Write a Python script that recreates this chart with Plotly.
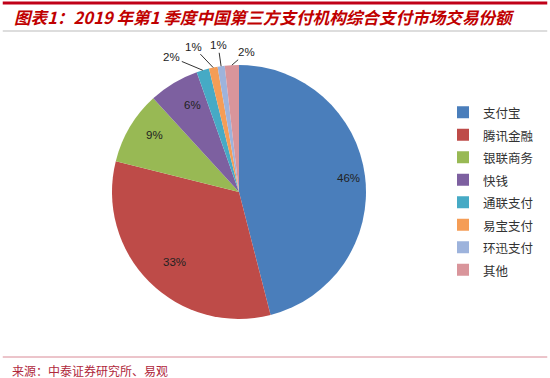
import math
import plotly.graph_objects as go

labels = ["支付宝", "腾讯金融", "银联商务", "快钱", "通联支付", "易宝支付", "环迅支付", "其他"]
shares = [46.0, 32.9, 9.3, 6.4, 1.6, 1.1, 0.9, 1.8]
colors = ["#4A7EBB", "#BE4B48", "#98B954", "#7D60A0", "#46AAC5", "#F59D56", "#9DB3DC", "#D9959B"]

title_text = "图表1：2019 年第1 季度中国第三方支付机构综合支付市场交易份额"
source_text = "来源：中泰证券研究所、易观"

# label style: None -> inside label; (ax, ay) -> outside label with leader line (pixel offsets)
label_offsets = [None, None, None, None, (-31, -13), (-20, -21), (-3, -21), (15, -13)]

CJK = "Noto Sans CJK SC"
W, H = 550, 378
CX, CY, R = 239, 192, 127  # pie centre / radius in px (defines the domain)

legend_labels = ['<span style="font-size:12.5px">%s</span>' % s for s in labels]

fig = go.Figure(go.Pie(
    labels=legend_labels,
    values=shares,
    sort=False,
    direction="clockwise",
    rotation=0,
    marker=dict(colors=colors, line=dict(width=0)),
    textinfo="none",
    domain=dict(x=[(CX - R) / W, (CX + R) / W], y=[1 - (CY + R) / H, 1 - (CY - R) / H]),
    hovertext=labels,
    hoverinfo="text+percent",
))

# percentage labels placed from the data (mid-angle of each slice)
total = sum(shares)
annotations = []
cum = 0.0
for s, off in zip(shares, label_offsets):
    mid = (cum + s / 2) / total * 2 * math.pi
    cum += s
    pct = "%d%%" % round(s / total * 100)
    font = dict(family="Liberation Sans, Arial", size=11.5, color="#222222")
    if off is None:
        r = 0.87 * R
        px, py = CX + r * math.sin(mid), CY - r * math.cos(mid)
        annotations.append(dict(text=pct, x=px / W, y=1 - py / H, xref="paper", yref="paper",
                                showarrow=False, font=font))
    else:
        px, py = CX + R * math.sin(mid), CY - R * math.cos(mid)
        annotations.append(dict(text=pct, x=px / W, y=1 - py / H, xref="paper", yref="paper",
                                showarrow=True, arrowhead=0, arrowwidth=1, arrowcolor="#333333",
                                ax=off[0], ay=off[1], standoff=0, font=font))

annotations += [
    dict(text="<b><i>" + title_text + "</i></b>", xref="paper", yref="paper",
         x=12 / W, y=1 - 17 / H, xanchor="left", yanchor="middle", showarrow=False,
         font=dict(family=CJK, size=16.6, color="#C00000")),
    dict(text=source_text, xref="paper", yref="paper",
         x=10 / W, y=1 - 370 / H, xanchor="left", yanchor="middle", showarrow=False,
         font=dict(family=CJK, size=12, color="#B0283C")),
]

fig.update_layout(
    width=W, height=H,
    margin=dict(l=0, r=0, t=0, b=0),
    paper_bgcolor="white",
    plot_bgcolor="white",
    showlegend=True,
    legend=dict(
        x=443 / W, y=1 - 96 / H, xanchor="left", yanchor="top",
        font=dict(family=CJK, size=15, color="#333333"),
        bgcolor="rgba(0,0,0,0)",
        itemwidth=30,
    ),
    shapes=[
        dict(type="line", xref="paper", yref="paper", x0=0.005, x1=0.995,
             y0=1 - 3 / H, y1=1 - 3 / H, line=dict(color="#C00018", width=3)),
        dict(type="line", xref="paper", yref="paper", x0=0.005, x1=0.995,
             y0=1 - 31 / H, y1=1 - 31 / H, line=dict(color="#BBBBBB", width=1)),
        dict(type="line", xref="paper", yref="paper", x0=0.005, x1=0.995,
             y0=1 - 357 / H, y1=1 - 357 / H, line=dict(color="#D98A96", width=1)),
    ],
    annotations=annotations,
)

fig.write_html("out.html", config={"displayModeBar": False},
               post_script="document.body.style.margin='0';")
